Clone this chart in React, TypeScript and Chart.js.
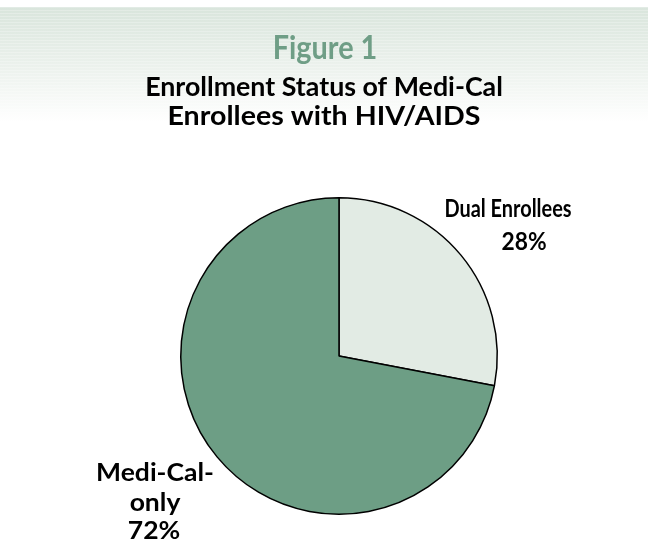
import React, { useEffect, useRef } from "react";
import { Chart, registerables } from "chart.js";

Chart.register(...registerables);

const categories = ["Dual Enrollees", "Medi-Cal-only"];
const values = [28, 72];
const sliceColors = ["#e2ebe4", "#6d9e85"];
const figureTitle = "Figure 1";
const subtitleLines = ["Enrollment Status of Medi-Cal", "Enrollees with HIV/AIDS"];
const labelLines = [
  ["Dual Enrollees", "28%"],
  ["Medi-Cal-", "only", "72%"],
];

const FONT = "Lato, 'Open Sans', sans-serif";

function drawText(
  ctx: CanvasRenderingContext2D,
  text: string,
  cx: number,
  cy: number,
  size: number,
  sx: number,
  color: string
) {
  ctx.save();
  ctx.font = `bold ${size}px ${FONT}`;
  ctx.fillStyle = color;
  ctx.textAlign = "center";
  ctx.textBaseline = "middle";
  ctx.translate(cx, cy);
  ctx.scale(sx, 1);
  ctx.fillText(text, 0, 0);
  ctx.restore();
}

const decorPlugin = {
  id: "decor",
  beforeDraw(chart: any) {
    const ctx = chart.ctx as CanvasRenderingContext2D;
    const w = chart.width;
    ctx.save();
    const top = 7;
    const bottom = 122;
    const g = ctx.createLinearGradient(0, top, 0, bottom);
    g.addColorStop(0, "#d9e5dc");
    g.addColorStop(0.5, "#ebf1ec");
    g.addColorStop(1, "#ffffff");
    ctx.fillStyle = g;
    ctx.fillRect(0, top, w, bottom - top);
    ctx.fillStyle = "rgba(255,255,255,0.25)";
    for (let y = top; y < bottom; y += 3) {
      ctx.fillRect(0, y, w, 1);
    }
    ctx.restore();
  },
  afterDraw(chart: any) {
    const ctx = chart.ctx as CanvasRenderingContext2D;
    drawText(ctx, figureTitle, 325, 49, 32, 0.9, "#6f9e86");
    drawText(ctx, subtitleLines[0], 324, 88, 26, 1.03, "#000000");
    drawText(ctx, subtitleLines[1], 324, 117, 26, 1.1, "#000000");
    // Dual Enrollees label
    drawText(ctx, labelLines[0][0], 508, 209, 24, 0.83, "#000000");
    drawText(ctx, labelLines[0][1], 524, 242, 24, 0.95, "#000000");
    // Medi-Cal-only label
    const mx = [155, 155, 154];
    const my = [473, 503, 531];
    labelLines[1].forEach((t, j) => drawText(ctx, t, mx[j], my[j], 25, 1.06, "#000000"));
  },
};

export default function App() {
  const ref = useRef<HTMLCanvasElement>(null);
  useEffect(() => {
    if (!ref.current) return;
    const chart = new Chart(ref.current, {
      type: "pie",
      data: {
        labels: categories,
        datasets: [
          {
            data: values,
            backgroundColor: sliceColors,
            borderColor: "#000000",
            borderWidth: 1.5,
          },
        ],
      },
      options: {
        animation: false,
        responsive: false,
        layout: { padding: { left: 180, right: 150, top: 197, bottom: 27 } },
        plugins: {
          legend: { display: false },
          tooltip: { enabled: false },
          title: { display: false },
        },
      },
      plugins: [decorPlugin],
    });
    return () => chart.destroy();
  }, []);
  return (
    <div style={{ position: "fixed", left: 0, top: 0, width: 648, height: 542, background: "#fff" }}>
      <canvas ref={ref} width={648} height={542} style={{ width: 648, height: 542 }} />
    </div>
  );
}
